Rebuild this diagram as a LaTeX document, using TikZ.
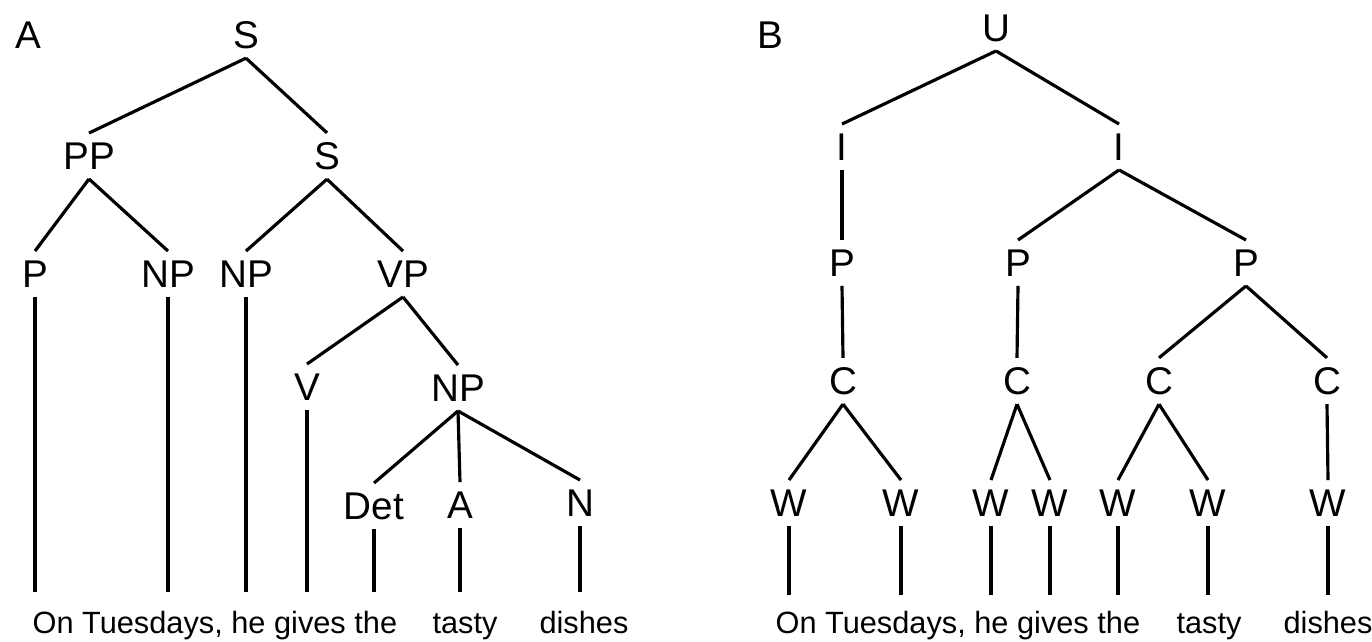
\documentclass[tikz,border=0pt]{standalone}
\usepackage{fontspec}
\setmainfont{Liberation Sans}
\begin{document}
\begin{tikzpicture}[x=0.02cm, y=-0.02cm, line width=1.8pt,
	lab/.style = {inner sep=5.5pt, outer sep=0pt, text depth=0pt, font=\fontsize{22}{26}\selectfont},
	word/.style = {inner sep=0pt, font=\fontsize{17.5}{21}\selectfont}]
	\useasboundingbox (0,0) rectangle (1372,642);
	% tree A
	\node[lab] (tA) at (28,35){A};
	\node[lab] (S) at (246,35){S};
	\node[lab] (PP) at (89,156){PP};
	\node[lab] (Sb) at (327,156){S};
	\node[lab] (P) at (35,274){P};
	\node[lab] (NPa) at (168,274){NP};
	\node[lab] (NPb) at (246,274){NP};
	\node[lab] (VP) at (403,274){VP};
	\node[lab] (V) at (307,387){V};
	\node[lab] (NPc) at (458,388){NP};
	\node[lab] (Det) at (374,506){Det};
	\node[lab] (Adj) at (460,505){A};
	\node[lab] (N) at (580,503){N};
	\node[word, anchor=base west] (sentA) at (31,633){On Tuesdays, he gives the};
	\node[word, anchor=base] (tastyA) at (465,633){tasty};
	\node[word, anchor=base] (dishA) at (584,633){dishes};
	\coordinate (baseA) at (0,592);
	\draw[-] (S.south) -- (PP.north);
	\draw[-] (S.south) -- (Sb.north);
	\draw[-] (PP.south) -- (P.north);
	\draw[-] (PP.south) -- (NPa.north);
	\draw[-] (Sb.south) -- (NPb.north);
	\draw[-] (Sb.south) -- (VP.north);
	\draw[-] (VP.south) -- (V.north);
	\draw[-] (VP.south) -- (NPc.north);
	\draw[-] (NPc.south) -- (Det.north);
	\draw[-] (NPc.south) -- (Adj.north);
	\draw[-] (NPc.south) -- (N.north);
	\draw[-] (P) -- (P |- baseA);
	\draw[-] (NPa) -- (NPa |- baseA);
	\draw[-] (NPb) -- (NPb |- baseA);
	\draw[-] (V) -- (V |- baseA);
	\draw[-] (Det) -- (Det |- baseA);
	\draw[-] (Adj) -- (Adj |- baseA);
	\draw[-] (N) -- (N |- baseA);
	% tree B
	\node[lab] (tB) at (770,35){B};
	\node[lab] (U) at (996,28){U};
	\node[lab] (Ia) at (842,147){I};
	\node[lab] (Ib) at (1119,147){I};
	\node[lab] (Pa) at (842,263){P};
	\node[lab] (Pb) at (1018,263){P};
	\node[lab] (Pc) at (1246,263){P};
	\node[lab] (Ca) at (843,381){C};
	\node[lab] (Cb) at (1017,381){C};
	\node[lab] (Cc) at (1159,381){C};
	\node[lab] (Cd) at (1327,381){C};
	\node[lab] (Wa) at (789,503){W};
	\node[lab] (Wb) at (901,503){W};
	\node[lab] (Wc) at (991,503){W};
	\node[lab] (Wd) at (1050,503){W};
	\node[lab] (We) at (1118,503){W};
	\node[lab] (Wf) at (1208,503){W};
	\node[lab] (Wg) at (1328,503){W};
	\node[word, anchor=base west] (sentB) at (774,633){On Tuesdays, he gives the};
	\node[word, anchor=base] (tastyB) at (1209,633){tasty};
	\node[word, anchor=base] (dishB) at (1328,633){dishes};
	\coordinate (baseB) at (0,595);
	\draw[-] (U.south) -- (Ia.north);
	\draw[-] (U.south) -- (Ib.north);
	\draw[-] (Ia.south) -- (Pa.north);
	\draw[-] (Ib.south) -- (Pb.north);
	\draw[-] (Ib.south) -- (Pc.north);
	\draw[-] (Pa.south) -- (Ca.north);
	\draw[-] (Pb.south) -- (Cb.north);
	\draw[-] (Pc.south) -- (Cc.north);
	\draw[-] (Pc.south) -- (Cd.north);
	\draw[-] (Ca.south) -- (Wa.north);
	\draw[-] (Ca.south) -- (Wb.north);
	\draw[-] (Cb.south) -- (Wc.north);
	\draw[-] (Cb.south) -- (Wd.north);
	\draw[-] (Cc.south) -- (We.north);
	\draw[-] (Cc.south) -- (Wf.north);
	\draw[-] (Cd.south) -- (Wg.north);
	\draw[-] (Wa) -- (Wa |- baseB);
	\draw[-] (Wb) -- (Wb |- baseB);
	\draw[-] (Wc) -- (Wc |- baseB);
	\draw[-] (Wd) -- (Wd |- baseB);
	\draw[-] (We) -- (We |- baseB);
	\draw[-] (Wf) -- (Wf |- baseB);
	\draw[-] (Wg) -- (Wg |- baseB);
\end{tikzpicture}
\end{document}
